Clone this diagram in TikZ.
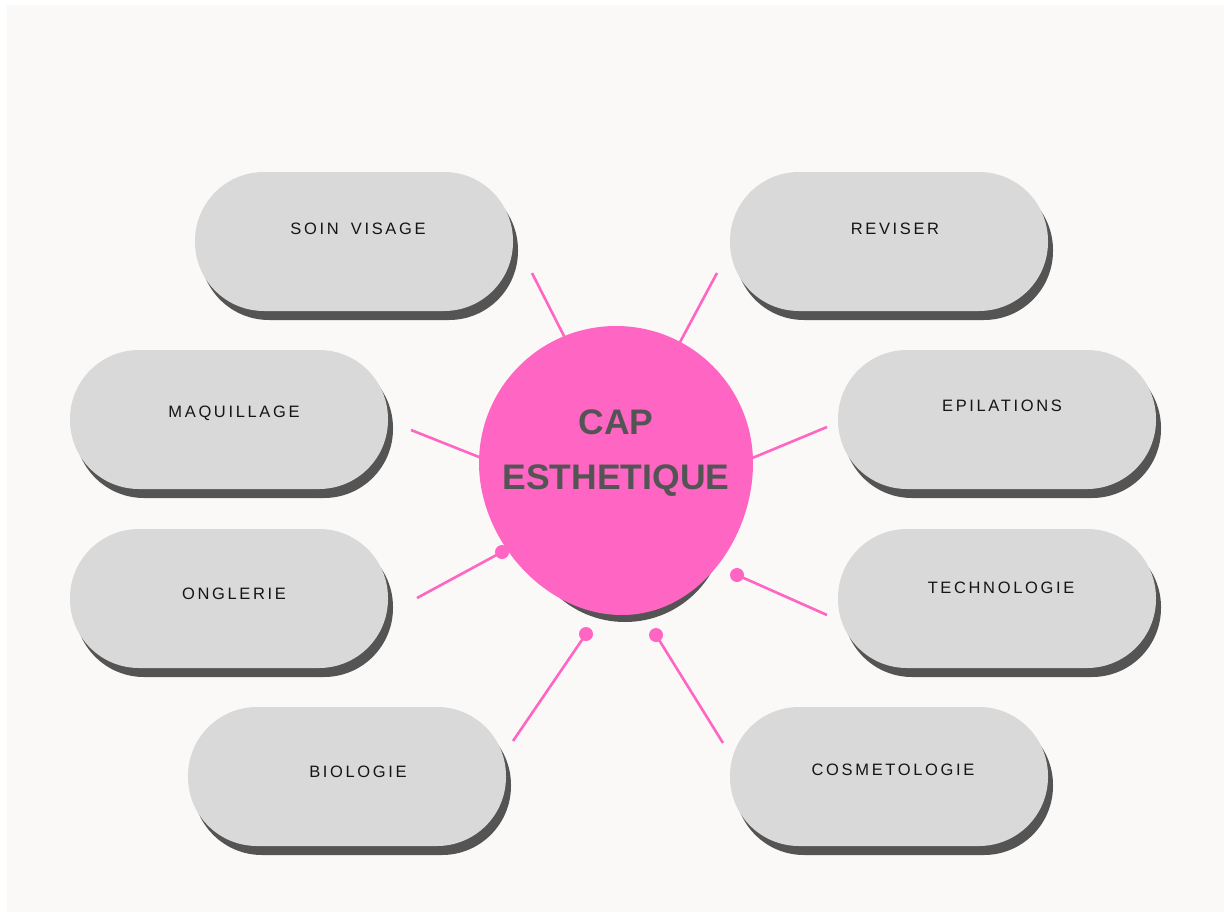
\documentclass[tikz,border=0pt]{standalone}
\usepackage{fontspec}
\setmainfont{Liberation Sans}
\newfontfamily\labelfont[LetterSpace=16,WordSpace=1.7]{Liberation Sans}
\newfontfamily\titlefont{Liberation Sans}
\usetikzlibrary{calc}
\definecolor{pinkc}{HTML}{FF66C4}
\definecolor{pillgray}{HTML}{D9D9D9}
\definecolor{shadowgray}{HTML}{545454}
\definecolor{bgc}{HTML}{FAF9F7}
\definecolor{textc}{HTML}{151515}
\definecolor{titlec}{HTML}{545454}
\begin{document}
\begin{tikzpicture}[x=1pt,y=-1pt,
  pillbase/.style={rectangle, rounded corners=69pt, minimum width=318pt, minimum height=139pt, inner sep=0pt, draw=none},
  pill/.style={pillbase, fill=pillgray},
  pillshadow/.style={pillbase, fill=shadowgray},
  lbl/.style={font=\labelfont\fontsize{16.5}{20}\selectfont, text=textc, anchor=base, inner sep=0pt},
  link/.style={draw=pinkc, line width=2.6pt},
  linkdot/.style={fill=pinkc}
]
\useasboundingbox (0,0) rectangle (1224,916);
\fill[white] (0,0) rectangle (1224,916);
\fill[bgc] (7,5) rectangle (1224,912);

% pill centres
\coordinate (p1) at (354,241.5);
\coordinate (p2) at (889,241.5);
\coordinate (p3) at (229,419.5);
\coordinate (p4) at (997,419.5);
\coordinate (p5) at (229,598.5);
\coordinate (p6) at (997,598.5);
\coordinate (p7) at (347,776.5);
\coordinate (p8) at (889,776.5);

% shadows
\foreach \p in {p1,p2,p3,p4,p5,p6,p7,p8}
  \node[pillshadow] at ($(\p)+(5,9)$) {};

% pills
\node[pill] (soin) at (p1) {};
\node[pill] (reviser) at (p2) {};
\node[pill] (maquillage) at (p3) {};
\node[pill] (epilations) at (p4) {};
\node[pill] (onglerie) at (p5) {};
\node[pill] (technologie) at (p6) {};
\node[pill] (biologie) at (p7) {};
\node[pill] (cosmetologie) at (p8) {};

% labels
\node[lbl] (t1) at (358,234) {SOIN VISAGE};
\node[lbl] (t2) at (895,234) {REVISER};
\node[lbl] (t3) at (234,417) {MAQUILLAGE};
\node[lbl] (t4) at (1002,411) {EPILATIONS};
\node[lbl] (t5) at (234,599) {ONGLERIE};
\node[lbl] (t6) at (1001,593) {TECHNOLOGIE};
\node[lbl] (t7) at (358,777) {BIOLOGIE};
\node[lbl] (t8) at (893,775) {COSMETOLOGIE};

% connector end points
\coordinate (a1) at (532,273); \coordinate (b1) at (565,338);
\coordinate (a2) at (717,273); \coordinate (b2) at (679,344);
\coordinate (a3) at (411,430); \coordinate (b3) at (484,459);
\coordinate (a4) at (827,427); \coordinate (b4) at (750,459);
\coordinate (a5) at (417,598); \coordinate (b5) at (502,552);
\coordinate (a6) at (827,615); \coordinate (b6) at (737,575);
\coordinate (a7) at (513,741); \coordinate (b7) at (586,634);
\coordinate (a8) at (723,743); \coordinate (b8) at (656,635);

\foreach \i in {1,...,8}
  \draw[link] (a\i) -- (b\i);

% central blob
\fill[shadowgray] (625,522) circle (100);
\path[fill=pinkc] (479,463) .. controls (479,387.3) and (540.3,326) .. (616,326)
  .. controls (691.7,326) and (753,387.3) .. (753,463)
  .. controls (753,540) and (697,615) .. (622,615)
  .. controls (545,615) and (479,540) .. (479,463) -- cycle;
\node[font=\titlefont\bfseries\fontsize{35.5}{55}\selectfont, text=titlec, align=center, inner sep=0pt] (cap) at (616,453) {CAP\\ESTHETIQUE};

% dots
\foreach \i in {5,6,7,8}
  \fill[linkdot] (b\i) circle (7);
\end{tikzpicture}
\end{document}
